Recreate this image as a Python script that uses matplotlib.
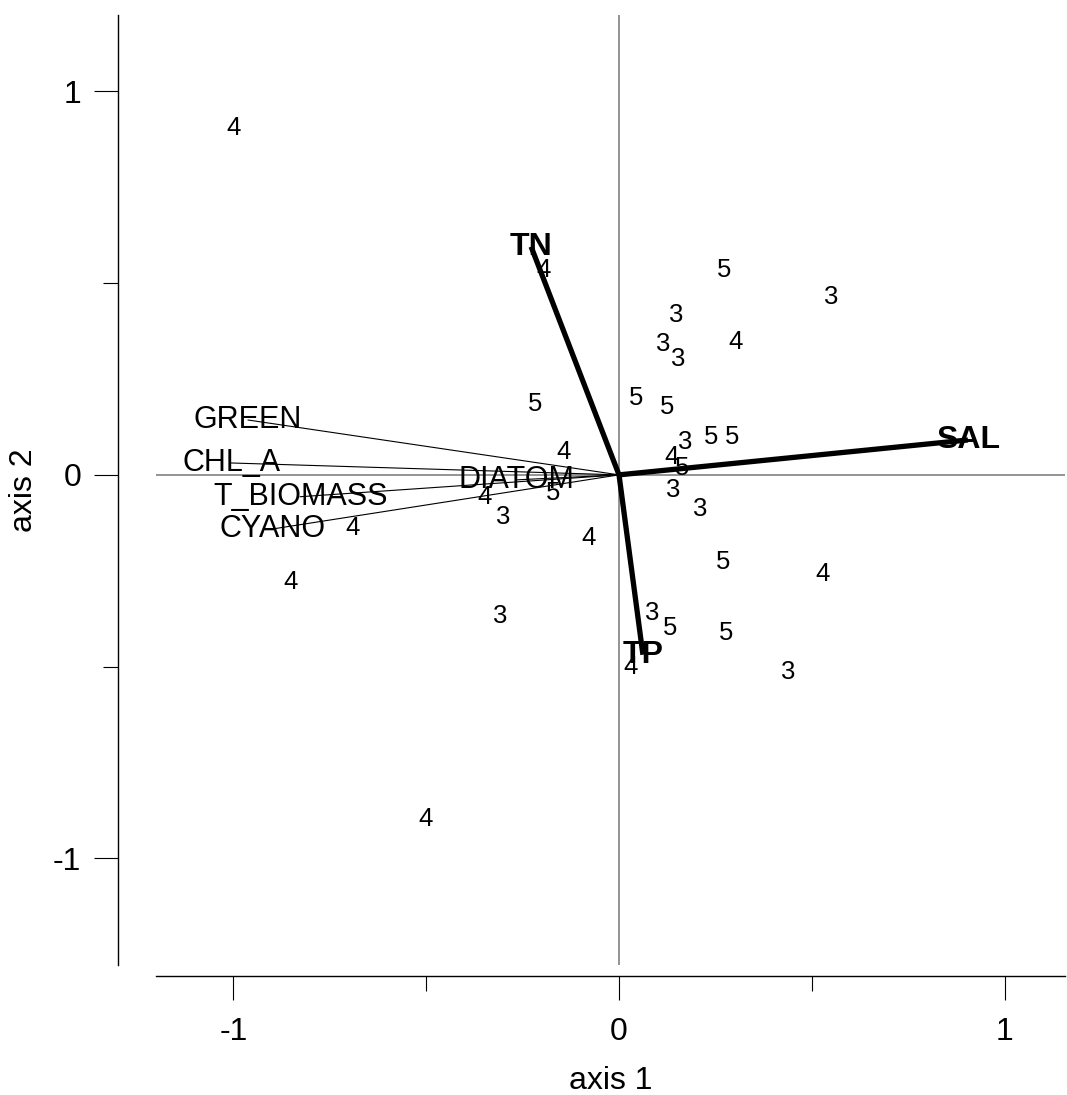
import numpy as np
import matplotlib
matplotlib.use("Agg")
import matplotlib.pyplot as plt
from matplotlib.ticker import FixedLocator


plt.rcParams["font.family"] = ["Liberation Sans", "DejaVu Sans"]


# ==============================
# Data
# ==============================

# site scores (label = group number)
site_x = [-1.001, -0.197, 0.272, 0.550, 0.148, 0.301, 0.114, 0.153,
          -0.218, 0.044, 0.125, -0.145, 0.171, 0.239, 0.293, 0.137,
          0.163, 0.140, 0.210, -0.348, -0.171, -0.301, -0.078, -0.690,
          -0.851, -0.309, 0.270, 0.527, 0.086, 0.132, 0.278, 0.031,
          0.438, -0.503]

site_y = [0.905, 0.535, 0.535, 0.464, 0.417, 0.347, 0.342, 0.302,
          0.185, 0.201, 0.177, 0.060, 0.086, 0.099, 0.099, 0.047,
          0.018, -0.039, -0.089, -0.057, -0.047, -0.110, -0.164, -0.138,
          -0.279, -0.368, -0.227, -0.258, -0.360, -0.399, -0.412, -0.500,
          -0.514, -0.897]

site_lab = ["4", "4", "5", "3", "3", "4", "3", "3",
            "5", "5", "5", "4", "3", "5", "5", "4",
            "5", "3", "3", "4", "5", "3", "4", "4",
            "4", "3", "5", "4", "3", "5", "5", "4",
            "3", "4"]

# species arrows
spec_names = ["GREEN", "CHL_A", "T_BIOMASS", "CYANO", "DIATOM"]
spec_x = [-0.962, -1.006, -0.827, -0.898, -0.265]
spec_y = [0.143, 0.031, -0.057, -0.141, -0.013]

# environmental arrows
env_names = ["TN", "SAL", "TP"]
env_x = [-0.228, 0.905, 0.062]
env_y = [0.595, 0.091, -0.469]


# ==============================
# Figure
# ==============================

fig = plt.figure(figsize=(10.67, 10.95), dpi=100)

ax = fig.add_axes([0.1462, 0.1187, 0.852, 0.8676])

ax.set_xlim(-1.201, 1.157)
ax.set_ylim(-1.278, 1.199)


# zero lines
ax.axhline(0, color="#777777", lw=1.1, zorder=1)
ax.axvline(0, color="#777777", lw=1.1, zorder=1)


# species (thin lines)
for name, x, y in zip(spec_names, spec_x, spec_y):
    ax.plot([0, x], [0, y], color="black", lw=0.8, zorder=2)
    ax.text(x, y, name, fontsize=22, ha="center", va="center",
            zorder=3)


# environment (thick lines)
for name, x, y in zip(env_names, env_x, env_y):
    ax.plot([0, x], [0, y], color="black", lw=3.8,
            solid_capstyle="butt", zorder=4)
    ax.text(x, y, name, fontsize=23, fontweight="bold",
            ha="center", va="center", zorder=5)


# sites
for lab, x, y in zip(site_lab, site_x, site_y):
    ax.text(x, y, lab, fontsize=18.5, ha="center", va="center",
            zorder=3)


# ==============================
# Axes style
# ==============================

for s in ["top", "right"]:
    ax.spines[s].set_visible(False)

ax.spines["left"].set_position(("outward", 27.4))
ax.spines["bottom"].set_position(("outward", 7.9))
ax.spines["left"].set_linewidth(1.0)
ax.spines["bottom"].set_linewidth(1.0)

ax.xaxis.set_major_locator(FixedLocator([-1, 0, 1]))
ax.yaxis.set_major_locator(FixedLocator([-1, 0, 1]))
ax.xaxis.set_minor_locator(FixedLocator([-0.5, 0.5]))
ax.yaxis.set_minor_locator(FixedLocator([-0.5, 0.5]))

ax.set_xticklabels(["-1", "0", "1"])
ax.set_yticklabels(["-1", "0", "1"])

ax.tick_params(which="major", length=17.3, width=0.8, labelsize=23)
ax.tick_params(which="minor", length=10.8, width=0.8)
ax.tick_params(axis="x", which="major", pad=12)
ax.tick_params(axis="y", which="major", pad=9)

ax.set_xlabel("axis 1", fontsize=23, labelpad=14)
ax.set_ylabel("axis 2", fontsize=23, labelpad=10)


plt.savefig("out.png", dpi=100)
plt.close()
